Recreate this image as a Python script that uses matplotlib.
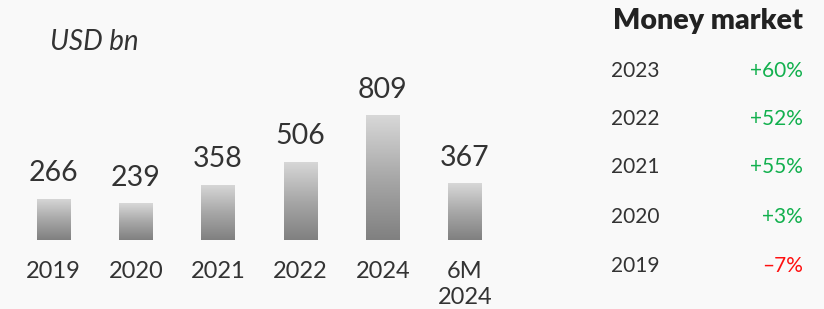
import matplotlib.pyplot as plt
from matplotlib.colors import LinearSegmentedColormap
import numpy as np

plt.rcParams['font.family'] = ['Lato', 'DejaVu Sans']

# bar chart data
categories = ['2019', '2020', '2021', '2022', '2024', '6M\n2024']
volumes = [266, 239, 358, 506, 809, 367]

# growth table
growth_years = ['2023', '2022', '2021', '2020', '2019']
growth_pct = [60, 52, 55, 3, -7]

bg = '#f9f9f9'
fig = plt.figure(figsize=(8.24, 3.09), dpi=100, facecolor=bg)

W, H = 824, 309
ax = fig.add_axes([12.35 / W, 69 / H, 493.8 / W, 154.5 / H])
ax.set_facecolor(bg)
ax.patch.set_alpha(0)

x = np.arange(len(categories))
bars = ax.bar(x, volumes, width=0.41, color='none', edgecolor='none')
ax.set_xlim(-0.5, len(categories) - 0.5)
ax.set_ylim(0, 1000)

# vertical gray gradient inside each bar (light top, darker bottom)
cmap = LinearSegmentedColormap.from_list('bargrey', ['#d8d8d8', '#a8a8a8', '#808080'])
grad = np.linspace(0, 1, 256).reshape(-1, 1)
for b in bars:
    x0, y0 = b.get_x(), b.get_y()
    im = ax.imshow(grad, cmap=cmap, aspect='auto',
                   extent=[x0, x0 + b.get_width(), y0, y0 + b.get_height()],
                   origin='upper', zorder=2)
    im.set_clip_path(b)

ax.bar_label(bars, labels=[str(v) for v in volumes], padding=9,
             fontsize=20.5, color='#333333')

ax.set_xticks(x)
ax.set_xticklabels(categories, fontsize=17, color='#333333', linespacing=1.3)
ax.tick_params(axis='x', length=0, pad=15)
ax.set_yticks([])
for s in ax.spines.values():
    s.set_visible(False)

fig.text(50 / W, 1 - 42 / H, 'USD bn', fontsize=20, style='italic',
         color='#333333', va='center', ha='left')

# right panel
fig.text(708 / W, 1 - 21 / H, 'Money market', fontsize=20.5, fontweight='heavy',
         color='#222222', va='center', ha='center')
row_y = [71, 119, 167, 217, 266]
for yr, pct, yy in zip(growth_years, growth_pct, row_y):
    fig.text(635 / W, 1 - yy / H, yr, fontsize=15, color='#333333',
             va='center', ha='center')
    col = '#12b04e' if pct >= 0 else '#ff1010'
    txt = f'+{pct}%' if pct >= 0 else f'\u2013{abs(pct)}%'
    fig.text(803 / W, 1 - yy / H, txt, fontsize=15, color=col,
             va='center', ha='right')

fig.savefig('out.png', dpi=100, facecolor=bg)
